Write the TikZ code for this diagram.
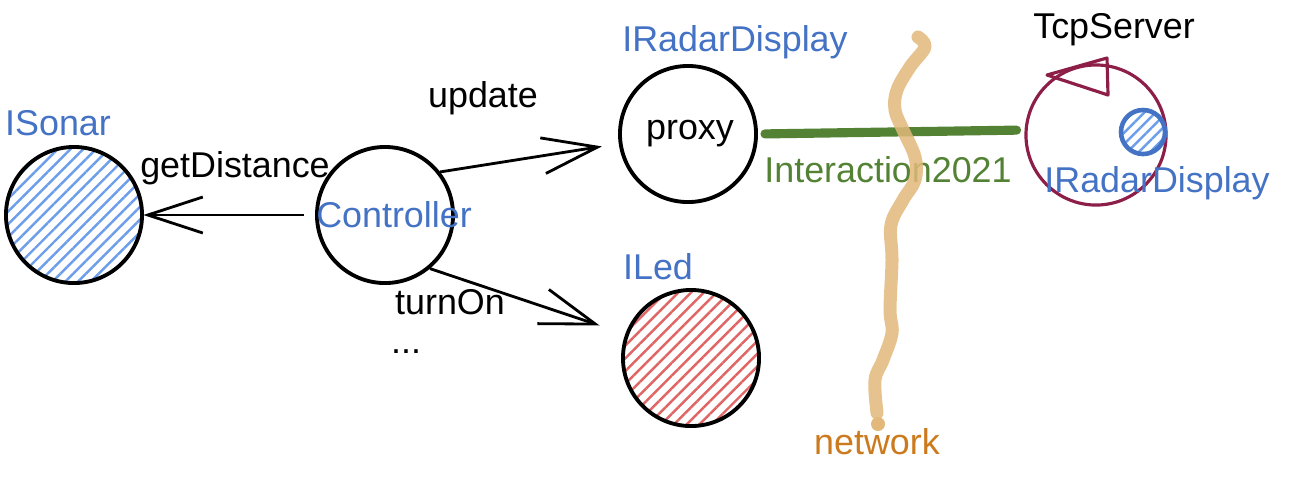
\documentclass[tikz,border=0pt]{standalone}
\usepackage{fontspec}
\setmainfont{Liberation Sans}
\usetikzlibrary{arrows.meta,patterns.meta}

\definecolor{ifblue}{RGB}{68,114,196}
\definecolor{hatchblue}{RGB}{109,158,235}
\definecolor{hatchred}{RGB}{224,102,102}
\definecolor{linkgreen}{RGB}{84,130,53}
\definecolor{servermaroon}{RGB}{140,30,72}
\definecolor{nettan}{RGB}{226,185,122}
\definecolor{netorange}{RGB}{204,122,30}

\begin{document}
\begin{tikzpicture}[x=0.01cm,y=-0.01cm,
    every node/.style={font=\fontsize{10.2}{12}\selectfont},
    comp/.style={circle, draw, line width=1.1pt, minimum size=1.36cm, inner sep=0pt},
    call/.style={line width=0.8pt, -{Straight Barb[length=5.5mm,width=3.6mm,line width=0.8pt]}},
    iface/.style={text=ifblue}]
    \useasboundingbox (0,0) rectangle (1295,487);

    % Компоненты
    \node[comp, pattern={Lines[angle=45,distance=0.09cm,line width=0.7pt]}, pattern color=hatchblue] (sonar) at (74,215) {};
    \node[comp] (ctrl) at (385,215) {};
    \node[comp] (proxy) at (688,134) {};
    \node[comp, pattern={Lines[angle=45,distance=0.09cm,line width=0.7pt]}, pattern color=hatchred] (led) at (691,358) {};

    % Подписи
    \node[iface] (sonarlbl) at (58,123) {ISonar};
    \node[iface] (ctrllbl) at (394,215) {Controller};
    \node[iface] (proxylbl) at (735,42) {IRadarDisplay};
    \node (proxytxt) at (690,134) {proxy};
    \node[iface] (ledlbl) at (658,267) {ILed};

    % Вызовы
    \draw[call, shorten <=0.11cm] (ctrl.west) -- (sonar.east);
    \node (getdist) at (235,168) {getDistance};
    \draw[call, shorten >=0.17cm] (ctrl.38) -- (proxy.188);
    \node (upd) at (483,98) {update};
    \draw[call, shorten >=0.27cm] (ctrl.-50) -- (led.160);
    \node (turnon) at (450,302) {turnOn};
    \node (dots) at (406,352) {...};

    % Сервер на другой стороне
    \node[circle, draw=servermaroon, line width=0.9pt, minimum size=1.4cm, inner sep=0pt] (tcp) at (1096,135) {};
    \draw[servermaroon, line width=0.9pt, line join=round] (1047,75) -- (1107,58) -- (1108,95) -- cycle;
    \node[circle, draw=ifblue, line width=1.3pt, minimum size=0.44cm, inner sep=0pt,
        pattern={Lines[angle=45,distance=0.08cm,line width=0.7pt]}, pattern color=hatchblue] (radar) at (1143,132) {};
    \node (tcplbl) at (1114,30) {TcpServer};
    \node[iface] (radarlbl) at (1157,183) {IRadarDisplay};

    % Соединение
    \draw[linkgreen, line width=2.6pt, line cap=round, shorten <=0.07cm, shorten >=0.08cm] (proxy.east) -- (tcp.176);
    \node[text=linkgreen] (inter) at (888,170) {Interaction2021};

    % Сеть
    \draw[nettan, opacity=0.85, line width=3.7pt, line cap=round, line join=round]
        plot[smooth, tension=0.6] coordinates {(918,37) (925,47) (910,67) (897,90) (895,110) (903,130)
        (915,157) (915,180) (903,200) (891,225) (892,260) (890,310) (892,333) (883,360) (875,380) (877,413)};
    \fill[nettan] (878,424) circle [radius=7];
    \node[text=netorange] (netlbl) at (877,442) {network};
\end{tikzpicture}
\end{document}
